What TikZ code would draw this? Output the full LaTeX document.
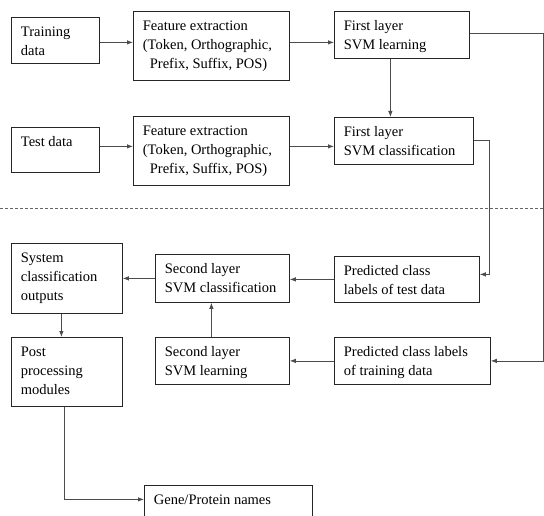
\documentclass[tikz,border=0pt]{standalone}
\usepackage{fontspec}
\setmainfont{Liberation Serif}
\usetikzlibrary{arrows.meta}
\usetikzlibrary{positioning}

\newcommand{\modtext}[3]{\parbox[c][#2][t]{#1}{\raggedright\leftskip=9.5pt\vspace*{9.5pt}#3}}

\begin{document}
\begin{tikzpicture}[
                x=1pt, y=-1pt,
                module/.style={draw=black!85, line width=0.8pt, inner sep=0pt,
                        anchor=north west, font=\fontsize{14.5}{19}\selectfont},
                arrow/.style={-{Latex[length=6pt,width=4.5pt]}, line width=0.8pt,
                        draw=black!70},
                separator/.style={draw=black!60, line width=0.7pt,
                        dash pattern=on 3pt off 2pt},
            ]
            \useasboundingbox (0,0) rectangle (544,516);

            % first layer
            \node[module] (train) at (11,17) {\modtext{88pt}{46pt}{Training\\data}};
            \node[module] (fe1) at (133,11) {\modtext{156pt}{69pt}{Feature extraction\\(Token, Orthographic,\\\hspace*{7pt}Prefix, Suffix, POS)}};
            \node[module] (fsl) at (334,11) {\modtext{135pt}{47pt}{First layer\\SVM learning}};
            \node[module] (test) at (11,127) {\modtext{88pt}{45pt}{Test data}};
            \node[module] (fe2) at (133,116) {\modtext{156pt}{69pt}{Feature extraction\\(Token, Orthographic,\\\hspace*{7pt}Prefix, Suffix, POS)}};
            \node[module] (fsc) at (334,117) {\modtext{139pt}{47pt}{First layer\\SVM classification}};

            \coordinate (sepleft) at (0,208);
            \coordinate (sepright) at (544,208);
            \draw[separator] (sepleft) -- (sepright);

            % second layer
            \node[module] (sco) at (11,243) {\modtext{111pt}{70pt}{System\\classification\\outputs}};
            \node[module] (slc) at (155,254) {\modtext{134pt}{48pt}{Second layer\\SVM classification}};
            \node[module] (pte) at (334,256) {\modtext{145pt}{46pt}{Predicted class\\labels of test data}};
            \node[module] (ppm) at (11,337) {\modtext{111pt}{69pt}{Post\\processing\\modules}};
            \node[module] (sll) at (155,337) {\modtext{134pt}{47pt}{Second layer\\SVM learning}};
            \node[module] (ptr) at (334,337) {\modtext{156pt}{47pt}{Predicted class labels\\of training data}};
            \node[module] (gene) at (144,485) {\modtext{168pt}{40pt}{Gene/Protein names}};

            \coordinate (outer) at (543,0);
            \coordinate (inner) at (489,0);

            \draw[arrow] ([yshift=-2pt]train.east) -- ([yshift=-2pt]train.east -| fe1.west);
            \draw[arrow] ([yshift=3.5pt]fe1.east) -- ([yshift=3.5pt]fe1.east -| fsl.west);
            \draw[arrow] ([yshift=3.5pt]test.east) -- ([yshift=3.5pt]test.east -| fe2.west);
            \draw[arrow] ([yshift=4.5pt]fe2.east) -- ([yshift=4.5pt]fe2.east -| fsc.west);
            \draw[arrow] ([xshift=-11.5pt]fsl.south) -- ([xshift=-11.5pt]fsl.south |- fsc.north);
            \draw[arrow] ([yshift=1.5pt]fsl.east) -- ([yshift=1.5pt]fsl.east -| outer)
                -- (outer |- ptr.east) -- (ptr.east);
            \draw[arrow] (fsc.east) -- (fsc.east -| inner)
                -- ([yshift=5pt]inner |- pte.east) -- ([yshift=5pt]pte.east);
            \draw[arrow] (pte.west) -- (pte.west -| slc.east);
            \draw[arrow] (slc.west) -- (slc.west -| sco.east);
            \draw[arrow] ([xshift=-5.5pt]sco.south) -- ([xshift=-5.5pt]sco.south |- ppm.north);
            \draw[arrow] ([xshift=-11pt]sll.north) -- ([xshift=-11pt]sll.north |- slc.south);
            \draw[arrow] (ptr.west) -- (ptr.west -| sll.east);
            \draw[arrow] ([xshift=-2.5pt]ppm.south) |- ([yshift=6pt]gene.west);
        \end{tikzpicture}
\end{document}
